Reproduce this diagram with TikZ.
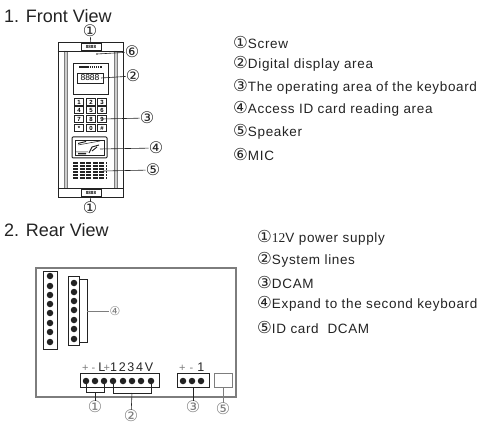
\documentclass[tikz,border=0pt]{standalone}
\usepackage{fontspec}
\setmainfont{Liberation Sans}
\newfontfamily\circfont{DejaVu Sans}
\newfontfamily\digitfont{Liberation Serif}
\usepackage{xcolor}
\definecolor{color1}{RGB}{35, 35, 35}
\definecolor{color2}{RGB}{125, 125, 125}
\definecolor{color3}{RGB}{205, 205, 205}
\tikzset{
  partbox/.style={rectangle, draw=color1, line width=0.8pt, inner sep=0pt},
  keybox/.style={partbox, minimum width=9pt, minimum height=7pt, font=\fontsize{6}{6}\selectfont\bfseries},
  pinhole/.style={circle, fill=color1, inner sep=0pt, minimum size=6.5pt},
  callout/.style={inner sep=0pt, font=\circfont\fontsize{16}{16}\selectfont, text=color1},
  smallcall/.style={inner sep=0pt, font=\circfont\fontsize{12}{12}\selectfont, text=color2},
  leader/.style={draw=color1, line width=0.6pt},
  headtext/.style={anchor=west, inner sep=0pt, text=color1, font=\fontsize{18}{18}\selectfont},
  listtext/.style={anchor=west, inner sep=0pt, text=color1, font=\addfontfeature{LetterSpace=4.8}\fontsize{13.5}{14}\selectfont},
  pintext/.style={anchor=west, inner sep=0pt, text=color1, font=\fontsize{12.5}{12.5}\selectfont},
}
\newcommand{\circnum}[1]{{\circfont\fontsize{16.5}{16.5}\selectfont#1}}
\newcommand{\graysign}[1]{{\color{color2}\fontsize{11}{11}\selectfont#1}}
\begin{document}
\begin{tikzpicture}[x=1pt, y=-1pt]
    \useasboundingbox (0,0) rectangle (485,425);
    \node (fronthead) [headtext] at (4,16) {1. Front View};
    \node (rearhead) [headtext] at (4,230) {2.  Rear View};

    \node (panel) [partbox, minimum width=65pt, minimum height=155pt] at (90.5,119.5) {};
    \fill[color3] (64,51) rectangle (67,188) (114,51) rectangle (117,188);
    \draw[color2, line width=0.5pt] (64,51) -- (64,188) (67,51) -- (67,188) (114,51) -- (114,188) (117,51) -- (117,188);
    \draw[color1, line width=0.8pt] (panel.west |- 0,51) -- (panel.east |- 0,51) (panel.west |- 0,188) -- (panel.east |- 0,188);
    \node (cliptop) [partbox, minimum width=20pt, minimum height=7pt, font=\fontsize{4.5}{4.5}\selectfont\bfseries] at (91,46.5) {8888};
    \node (clipbot) [partbox, minimum width=20pt, minimum height=7pt, font=\fontsize{4.5}{4.5}\selectfont\bfseries] at (91,192.5) {8888};
    \node (mic) [circle, fill=color1, inner sep=0pt, minimum size=1.6pt] at (97,54) {};

    \node (dispframe) [partbox, minimum width=35pt, minimum height=31pt] at (90.5,78.5) {};
    \draw[color1, line width=1.5pt, dash pattern=on 1.5pt off 0.6pt] (79,67) -- (102,67);
    \node (disp) [partbox, minimum width=26pt, minimum height=10pt, font=\fontsize{8.5}{8.5}\selectfont] at (90,78) {8888};

    \foreach \keyname/\keyx/\keyy/\keytxt in {a/79/102/1, b/91/102/2, c/102/102/3, d/79/110/4, e/91/110/5, f/102/110/6, g/79/119/7, h/91/119/8, i/102/119/9, j/79/128/*, k/91/128/0, l/102/128/\#}
        \node (key\keyname) [keybox] at (\keyx,\keyy) {\keytxt};

    \node (cardframe) [partbox, rounded corners=1pt, line width=1pt, minimum width=35pt, minimum height=21pt] at (89.5,147.5) {};
    \node (cardarea) [partbox, minimum width=29pt, minimum height=15pt] at (89.5,147.5) {};
    \fill[color1] (78,143) -- (86,141) -- (86,142) -- (78,144) -- cycle (78,153) -- (86,153) -- (86,154.5) -- (78,154.5) -- cycle;
    \draw[color1, line width=0.5pt] (78,145) -- (100,141) (76,152) -- (88,152);
    \draw[color1, line width=0.9pt] (89,153) -- (92,147) -- (99,145) (92,151) -- (97,147);
    \coordinate (cardpt) at (100,149);

    \foreach \rowy in {163,166,169,172,175,178}
        \draw[color1, line width=1.2pt, dash pattern=on 5pt off 1.6pt] (73,\rowy) -- (107,\rowy);
    \coordinate (speakpt) at (103,171);
    \coordinate (keypt) at (102,119);
    \coordinate (disppt) at (101,78);

    \node (calltop) [callout] at (90,31) {①};
    \node (callmic) [callout] at (132,52) {⑥};
    \node (calldisp) [callout] at (133,76) {②};
    \node (callkey) [callout] at (147,118) {③};
    \node (callcard) [callout] at (156,148) {④};
    \node (callspeak) [callout] at (153,170) {⑤};
    \node (callbot) [callout] at (90,208) {①};
    \draw[leader] (calltop) -- (cliptop);
    \draw[leader] (callmic) -- (mic);
    \draw[leader] (calldisp) -- (disppt);
    \draw[leader] (callkey) -- (keypt);
    \draw[leader] (callcard) -- (cardpt);
    \draw[leader] (callspeak) -- (speakpt);
    \draw[leader] (callbot) -- (clipbot);

    \node (frontone) [listtext] at (233,42) {\circnum{①}Screw};
    \node (fronttwo) [listtext] at (233,64) {\circnum{②}Digital display area};
    \node (frontthree) [listtext] at (233,87) {\circnum{③}The operating area of the keyboard};
    \node (frontfour) [listtext] at (233,109) {\circnum{④}Access ID card reading area};
    \node (frontfive) [listtext] at (233,132) {\circnum{⑤}Speaker};
    \node (frontsix) [listtext] at (233,154) {\circnum{⑥}MIC};

    \draw[color2, line width=1.2pt] (36,397) -- (36,268) -- (236,268) -- (236,397) -- cycle;
    \node (stripa) [partbox, minimum width=14pt, minimum height=78pt] at (50,310) {};
    \foreach \pinid/\piny in {1/276, 2/286, 3/295, 4/304, 5/313, 6/323, 7/332, 8/342}
        \node (pina\pinid) [pinhole] at (50,\piny) {};
    \node (stripb) [partbox, minimum width=11pt, minimum height=69pt] at (73.5,310.5) {};
    \foreach \pinid/\piny in {1/283, 2/292, 3/301, 4/310, 5/320, 6/329, 7/339}
        \node (pinb\pinid) [pinhole] at (74,\piny) {};
    \draw[color1, line width=0.7pt] (79,279) -- (87,279) -- (87,342) -- (79,342);
    \coordinate (stripbpt) at (87,311);
    \node (callexpand) [smallcall] at (115,311) {④};
    \draw[color2, line width=0.7pt] (stripbpt) -- (callexpand);

    \node (connl) [partbox, minimum width=79pt, minimum height=14pt] at (119.5,380) {};
    \foreach \pinid/\pinx in {1/86, 2/95, 3/104, 4/113, 5/123, 6/132, 7/141, 8/151}
        \node (pinl\pinid) [pinhole] at (\pinx,381) {};
    \node (connm) [partbox, minimum width=32pt, minimum height=14pt] at (193,380) {};
    \foreach \pinid/\pinx in {1/183, 2/192, 3/201}
        \node (pinm\pinid) [pinhole] at (\pinx,381) {};
    \node (connr) [partbox, draw=color2, minimum width=18pt, minimum height=14pt] at (223,380) {};
    \node (pinlabl) [pintext] at (82,367) {\graysign{+}\hspace{3pt}\graysign{-}\hspace{3pt}L\hspace{-1.5pt}\graysign{+}1\hspace{1.7pt}2\hspace{1.7pt}3\hspace{1.7pt}4\hspace{1.7pt}V};
    \node (pinlabm) [pintext] at (179,367) {\graysign{+}\hspace{4pt}\graysign{-}\hspace{4pt}1};

    \draw[leader] (pinl1) -- (86,392) -- (104,392) -- (pinl3);
    \draw[leader] (pinl4) -- (113,393) -- (151,393) -- (pinl8);
    \node (callpower) [callout, text=color2] at (95,407) {①};
    \node (callsys) [callout, text=color2] at (131,416) {②};
    \node (calldcam) [callout, text=color2] at (193,407) {③};
    \node (callid) [callout, text=color2] at (223,409) {⑤};
    \draw[leader] (95,392) -- (callpower);
    \draw[leader] (132,393) -- (callsys);
    \draw[leader] (connm) -- (calldcam);
    \draw[leader, draw=color2] (connr) -- (callid);

    \node (rearone) [listtext] at (257,238) {\circnum{①}{\digitfont 12}V power supply};
    \node (reartwo) [listtext] at (257,260) {\circnum{②}System lines};
    \node (rearthree) [listtext] at (257,282) {\circnum{③}DCAM};
    \node (rearfour) [listtext] at (257,304) {\circnum{④}Expand to the second keyboard};
    \node (rearfive) [listtext] at (257,327) {\circnum{⑤}ID card\ \ DCAM};
\end{tikzpicture}
\end{document}
